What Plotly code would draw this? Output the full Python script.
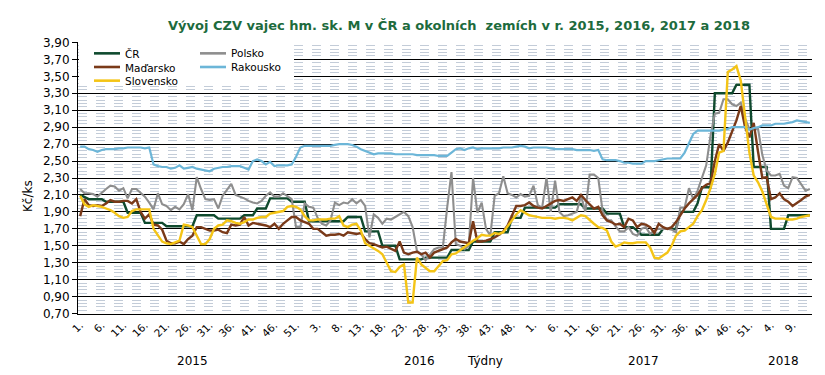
import plotly.graph_objects as go

# ---------------- data ----------------
years = ["2015", "2016", "2017", "2018"]
weeks_per_year = [53, 52, 52, 13]
week_labels = [f"{w}." for n in weeks_per_year for w in range(1, n + 1)]

cr = [2.10, 2.07, 2.05, 2.05, 2.05, 2.05, 2.02, 2.02, 2.02, 2.02,
      2.02, 1.89, 1.89, 1.89, 1.89, 1.77, 1.77, 1.77, 1.77, 1.77,
      1.73, 1.73, 1.73, 1.73, 1.73, 1.73, 1.73, 1.86, 1.86, 1.86,
      1.86, 1.86, 1.82, 1.82, 1.82, 1.82, 1.82, 1.82, 1.86, 1.86,
      1.86, 1.94, 1.94, 1.94, 2.06, 2.06, 2.06, 2.06, 2.06, 2.02,
      2.02, 2.02, 2.02, 1.79, 1.79, 1.79, 1.79, 1.79, 1.79, 1.79,
      1.79, 1.79, 1.84, 1.84, 1.84, 1.84, 1.67, 1.67, 1.67, 1.67,
      1.50, 1.50, 1.50, 1.50, 1.34, 1.34, 1.34, 1.34, 1.34, 1.34,
      1.36, 1.36, 1.36, 1.36, 1.36, 1.36, 1.45, 1.45, 1.45, 1.45,
      1.45, 1.55, 1.55, 1.55, 1.55, 1.55, 1.66, 1.66, 1.66, 1.66,
      1.83, 1.83, 1.83, 1.95, 1.95, 1.95, 1.95, 1.95, 1.95, 1.95,
      1.95, 1.99, 1.99, 1.99, 1.99, 1.99, 1.99, 1.94, 1.94, 1.94,
      1.94, 1.94, 1.88, 1.88, 1.88, 1.88, 1.72, 1.72, 1.72, 1.68,
      1.63, 1.63, 1.63, 1.63, 1.63, 1.70, 1.70, 1.70, 1.70, 1.90,
      1.90, 1.90, 1.90, 2.00, 2.19, 2.19, 2.19, 3.30, 3.30, 3.30,
      3.30, 3.30, 3.40, 3.40, 3.40, 3.40, 2.43, 2.43, 2.43, 2.43,
      1.70, 1.70, 1.70, 1.70, 1.86, 1.86, 1.86, 1.86, 1.86, 1.86]

polsko = [2.17, 2.12, 2.12, 2.11, 2.08, 2.13, 2.17, 2.21, 2.20, 2.15,
          2.18, 2.06, 2.17, 2.17, 2.13, 2.08, 2.01, 1.93, 2.12, 1.99,
          1.97, 1.92, 1.96, 1.93, 1.99, 2.11, 1.92, 2.31, 2.17, 2.05,
          2.04, 2.05, 1.94, 2.09, 2.16, 2.23, 2.10, 2.08, 2.06, 2.03,
          2.01, 2.00, 2.03, 2.09, 2.13, 2.08, 2.08, 2.12, 2.08, 2.05,
          1.72, 1.72, 2.00,
          1.96, 1.95, 1.83, 1.76, 1.74, 1.80, 2.01, 1.98, 2.01,
          2.00, 2.05, 2.00, 2.04, 1.97, 1.60, 1.87, 1.83, 1.76, 1.82,
          1.81, 1.84, 1.88, 1.90, 1.85, 1.72, 1.44, 1.40, 1.33, 1.40,
          1.46, 1.48, 1.48, 1.95, 2.37, 1.52, 1.50, 1.46, 1.50, 2.30,
          1.89, 2.01, 1.70, 1.62, 2.09, 2.12, 2.32, 2.12, 2.10, 2.07,
          2.11, 2.08, 2.09, 2.21, 1.98, 1.95, 2.30, 1.90, 2.27, 1.90,
          1.85, 1.86, 1.88, 1.90, 2.09, 1.90, 2.34, 2.34, 2.30, 1.91,
          1.80, 1.80, 1.73, 1.67, 1.67, 1.72, 1.64, 1.62, 1.70, 1.72,
          1.64, 1.68, 1.70, 1.70, 1.70, 1.69, 1.66, 1.95, 1.95, 2.18,
          2.05, 2.15, 2.29, 2.45, 2.80, 3.06, 3.07, 3.23, 3.23, 3.17,
          3.15, 3.19, 3.00, 2.88, 2.87, 2.88, 2.57, 2.39, 2.33, 2.33,
          2.35, 2.21, 2.18, 2.31, 2.30, 2.22, 2.15, 2.17]

madarsko = [1.85, 2.05, 1.98, 1.97, 1.98, 1.97, 2.00, 2.04, 2.02, 2.02,
            2.03, 2.03, 2.00, 2.05, 1.90, 1.82, 1.87, 1.75, 1.74, 1.69,
            1.56, 1.53, 1.53, 1.55, 1.52, 1.58, 1.62, 1.72, 1.72, 1.70,
            1.68, 1.68, 1.69, 1.66, 1.65, 1.75, 1.74, 1.75, 1.84, 1.74,
            1.77, 1.76, 1.75, 1.74, 1.72, 1.76, 1.70, 1.76, 1.80, 1.84,
            1.84, 1.80, 1.78,
            1.76, 1.70, 1.70, 1.66, 1.62, 1.63, 1.63, 1.64, 1.62,
            1.66, 1.65, 1.64, 1.65, 1.58, 1.53, 1.52, 1.50, 1.48, 1.49,
            1.46, 1.44, 1.55, 1.42, 1.40, 1.42, 1.43, 1.40, 1.42, 1.36,
            1.42, 1.44, 1.46, 1.48, 1.54, 1.58, 1.55, 1.54, 1.53, 1.79,
            1.55, 1.55, 1.56, 1.58, 1.60, 1.63, 1.67, 1.74, 1.86, 1.97,
            1.97, 1.98, 2.01, 1.97, 1.95, 1.94, 1.97, 2.00, 2.03, 2.04,
            2.03, 2.05, 2.07, 2.03, 2.10, 2.04, 1.99, 1.94, 1.96, 1.86,
            1.80, 1.78, 1.75, 1.76, 1.72, 1.82, 1.80, 1.72, 1.76, 1.75,
            1.72, 1.65, 1.76, 1.72, 1.70, 1.72, 1.78, 1.86, 1.94, 2.00,
            2.05, 2.10, 2.18, 2.22, 2.24, 2.50, 2.70, 2.62, 2.72, 2.86,
            2.98, 3.15, 2.90, 2.78, 2.95, 2.61, 2.30, 2.31, 2.05, 2.07,
            2.12, 2.05, 2.02, 1.97, 2.00, 2.04, 2.08, 2.10]

rakousko = [2.67, 2.67, 2.64, 2.63, 2.61, 2.63, 2.64, 2.64, 2.64, 2.65,
            2.65, 2.66, 2.66, 2.66, 2.66, 2.65, 2.66, 2.46, 2.44, 2.43,
            2.43, 2.41, 2.42, 2.45, 2.41, 2.42, 2.43, 2.41, 2.40, 2.39,
            2.38, 2.41, 2.42, 2.43, 2.43, 2.44, 2.44, 2.44, 2.42, 2.40,
            2.50, 2.52, 2.50, 2.46, 2.49, 2.44, 2.45, 2.45, 2.45, 2.46,
            2.55, 2.66, 2.68,
            2.68, 2.68, 2.68, 2.68, 2.68, 2.68, 2.69, 2.70, 2.70,
            2.70, 2.69, 2.67, 2.64, 2.62, 2.60, 2.58, 2.59, 2.59, 2.59,
            2.59, 2.58, 2.58, 2.58, 2.58, 2.58, 2.57, 2.57, 2.57, 2.57,
            2.57, 2.56, 2.56, 2.56, 2.60, 2.64, 2.65, 2.63, 2.65, 2.66,
            2.64, 2.65, 2.65, 2.65, 2.65, 2.65, 2.66, 2.66, 2.66, 2.67,
            2.68, 2.67, 2.65, 2.66, 2.66, 2.66, 2.66, 2.65, 2.64, 2.64,
            2.64, 2.64, 2.64, 2.63, 2.63, 2.63, 2.63, 2.62, 2.63, 2.52,
            2.51, 2.51, 2.51, 2.50, 2.48, 2.48, 2.47, 2.47, 2.47, 2.50,
            2.50, 2.50, 2.51, 2.52, 2.53, 2.53, 2.53, 2.53, 2.60, 2.72,
            2.82, 2.86, 2.86, 2.86, 2.86, 2.86, 2.86, 2.87, 2.88, 2.90,
            2.90, 2.90, 2.90, 2.87, 2.89, 2.90, 2.92, 2.92, 2.92, 2.94,
            2.94, 2.94, 2.95, 2.96, 2.98, 2.97, 2.96, 2.95]

slovensko = [2.09, 1.99, 1.96, 1.98, 1.97, 1.96, 1.94, 1.92, 1.89, 1.85,
             1.83, 1.84, 1.91, 1.93, 1.93, 1.93, 1.93, 1.70, 1.62, 1.55,
             1.53, 1.52, 1.54, 1.56, 1.75, 1.74, 1.72, 1.62, 1.52, 1.52,
             1.58, 1.70, 1.74, 1.75, 1.80, 1.79, 1.77, 1.76, 1.78, 1.81,
             1.81, 1.83, 1.84, 1.84, 1.88, 1.89, 1.90, 1.91, 1.96, 1.97,
             1.96, 1.93, 1.85,
             1.80, 1.80, 1.81, 1.81, 1.81, 1.82, 1.82, 1.85, 1.74,
             1.72, 1.75, 1.76, 1.68, 1.53, 1.50, 1.48, 1.44, 1.40, 1.30,
             1.20, 1.19, 1.25, 1.28, 0.83, 0.83, 1.36, 1.28, 1.24, 1.20,
             1.20, 1.26, 1.32, 1.33, 1.40, 1.41, 1.45, 1.48, 1.52, 1.56,
             1.59, 1.63, 1.62, 1.62, 1.65, 1.64, 1.66, 1.73, 1.79, 1.87,
             1.92, 1.89, 1.86, 1.85, 1.84, 1.83, 1.83, 1.83, 1.82, 1.83,
             1.83, 1.82, 1.80, 1.83, 1.86, 1.85, 1.80, 1.76, 1.72, 1.71,
             1.68, 1.55, 1.49, 1.51, 1.54, 1.53, 1.53, 1.54, 1.54, 1.54,
             1.48, 1.36, 1.35, 1.39, 1.42, 1.50, 1.62, 1.67, 1.68, 1.72,
             1.76, 1.85, 1.92, 2.04, 2.18, 2.35, 2.60, 2.62, 3.55, 3.58,
             3.62, 3.45, 3.05, 2.60, 2.33, 2.25, 2.14, 1.98, 1.84, 1.82,
             1.82, 1.82, 1.81, 1.81, 1.82, 1.84, 1.85, 1.86]

series = [
    ("ČR", cr, "#0f4a2e", 2.4),
    ("Polsko", polsko, "#8e8e8e", 2.1),
    ("Maďarsko", madarsko, "#7a3a19", 2.4),
    ("Rakousko", rakousko, "#6cb6d8", 2.2),
    ("Slovensko", slovensko, "#f4c416", 2.4),
]
legend_columns = [["ČR", "Maďarsko", "Slovensko"], ["Polsko", "Rakousko"]]

x = list(range(len(week_labels)))

# ---------------- layout geometry (pixels) ----------------
W, H = 825, 375
PL, PR, PT, PB = 70, 804, 34, 306


def pxx(v):
    return (v - PL) / (PR - PL)


def pxy(v):
    return (PB - v) / (PB - PT)


fig = go.Figure()
for name, vals, col, w in series:
    fig.add_trace(go.Scatter(x=x, y=vals, mode="lines", name=name,
                             line=dict(color=col, width=w),
                             showlegend=False))

FONT = "DejaVu Sans"

fig.update_layout(
    width=W, height=H,
    margin=dict(l=PL, r=W - PR, t=PT, b=H - PB),
    paper_bgcolor="white", plot_bgcolor="white",
    separators=", ",
    font=dict(family=FONT, size=12, color="black"),
    title=dict(text="<b>Vývoj CZV vajec hm. sk. M v ČR a okolních  zemích v r. 2015, 2016, 2017 a 2018</b>",
               x=451 / W, xref="container", xanchor="center",
               y=1 - 17 / H, yref="container", yanchor="middle",
               font=dict(family=FONT, size=13, color="#1d6b3d")),
    xaxis=dict(range=[-0.5, len(x) - 0.5], tickmode="array",
               tickvals=x[::5], ticktext=week_labels[::5],
               tickangle=-45, tickfont=dict(size=10.5, family=FONT),
               showgrid=False, zeroline=False, showline=True,
               linecolor="black", linewidth=1, ticks=""),
    yaxis=dict(range=[0.695, 3.905], tick0=0.7, dtick=0.2, tickformat=".2f",
               showgrid=True, gridcolor="black", gridwidth=1,
               zeroline=False, showline=True, linecolor="black", linewidth=1,
               ticks="outside", ticklen=5, tickcolor="black",
               tickfont=dict(size=12, family=FONT),
               minor=dict(dtick=0.04, tick0=0.7, showgrid=True,
                          gridcolor="#c3ccd8", griddash="dash", gridwidth=1)),
)

# year labels under the week axis
annotations = []
start = 0
for yr, n in zip(years, weeks_per_year):
    annotations.append(dict(text=yr, x=start + (n - 1) / 2, xref="x",
                            y=pxy(353), yref="paper", showarrow=False,
                            xanchor="center", yanchor="middle",
                            font=dict(size=12, family=FONT)))
    start += n
annotations.append(dict(text="Týdny", x=pxx(477), xref="paper", y=pxy(353),
                        yref="paper", showarrow=False, xanchor="center",
                        yanchor="middle", font=dict(size=12, family=FONT)))
annotations.append(dict(text="Kč/ks", x=pxx(20), xref="paper", y=pxy(188),
                        yref="paper", showarrow=False, textangle=-90,
                        xanchor="center", yanchor="middle",
                        font=dict(size=12, family=FONT)))

# legend drawn as a white box with line samples and multi-line labels
LEG_FS = 10.5
LINE_STEP = LEG_FS * 1.3
LEG_CENTER = 59
shapes = [dict(type="rect", xref="paper", yref="paper",
               x0=pxx(71), x1=pxx(286), y0=pxy(78), y1=pxy(35),
               fillcolor="white", line=dict(width=0), layer="above")]
colors = {name: col for name, vals, col, w in series}
col_x = [86, 192]
for cx, names in zip(col_x, legend_columns):
    n = len(names)
    # labels: one text block per column, lines centred on LEG_CENTER for 3 rows
    first_y = LEG_CENTER - LINE_STEP
    block_center = first_y + (n - 1) * LINE_STEP / 2
    annotations.append(dict(text="<br>".join(names), x=pxx(cx + 29),
                            xref="paper", y=pxy(block_center), yref="paper",
                            xanchor="left", yanchor="middle", align="left",
                            showarrow=False,
                            font=dict(size=LEG_FS, family=FONT)))
    for k, name in enumerate(names):
        ly = first_y + k * LINE_STEP
        shapes.append(dict(type="line", xref="paper", yref="paper",
                           x0=pxx(cx), x1=pxx(cx + 26), y0=pxy(ly), y1=pxy(ly),
                           line=dict(color=colors[name], width=2.6),
                           layer="above"))

fig.update_layout(annotations=annotations, shapes=shapes)
fig.write_html("out.html")
